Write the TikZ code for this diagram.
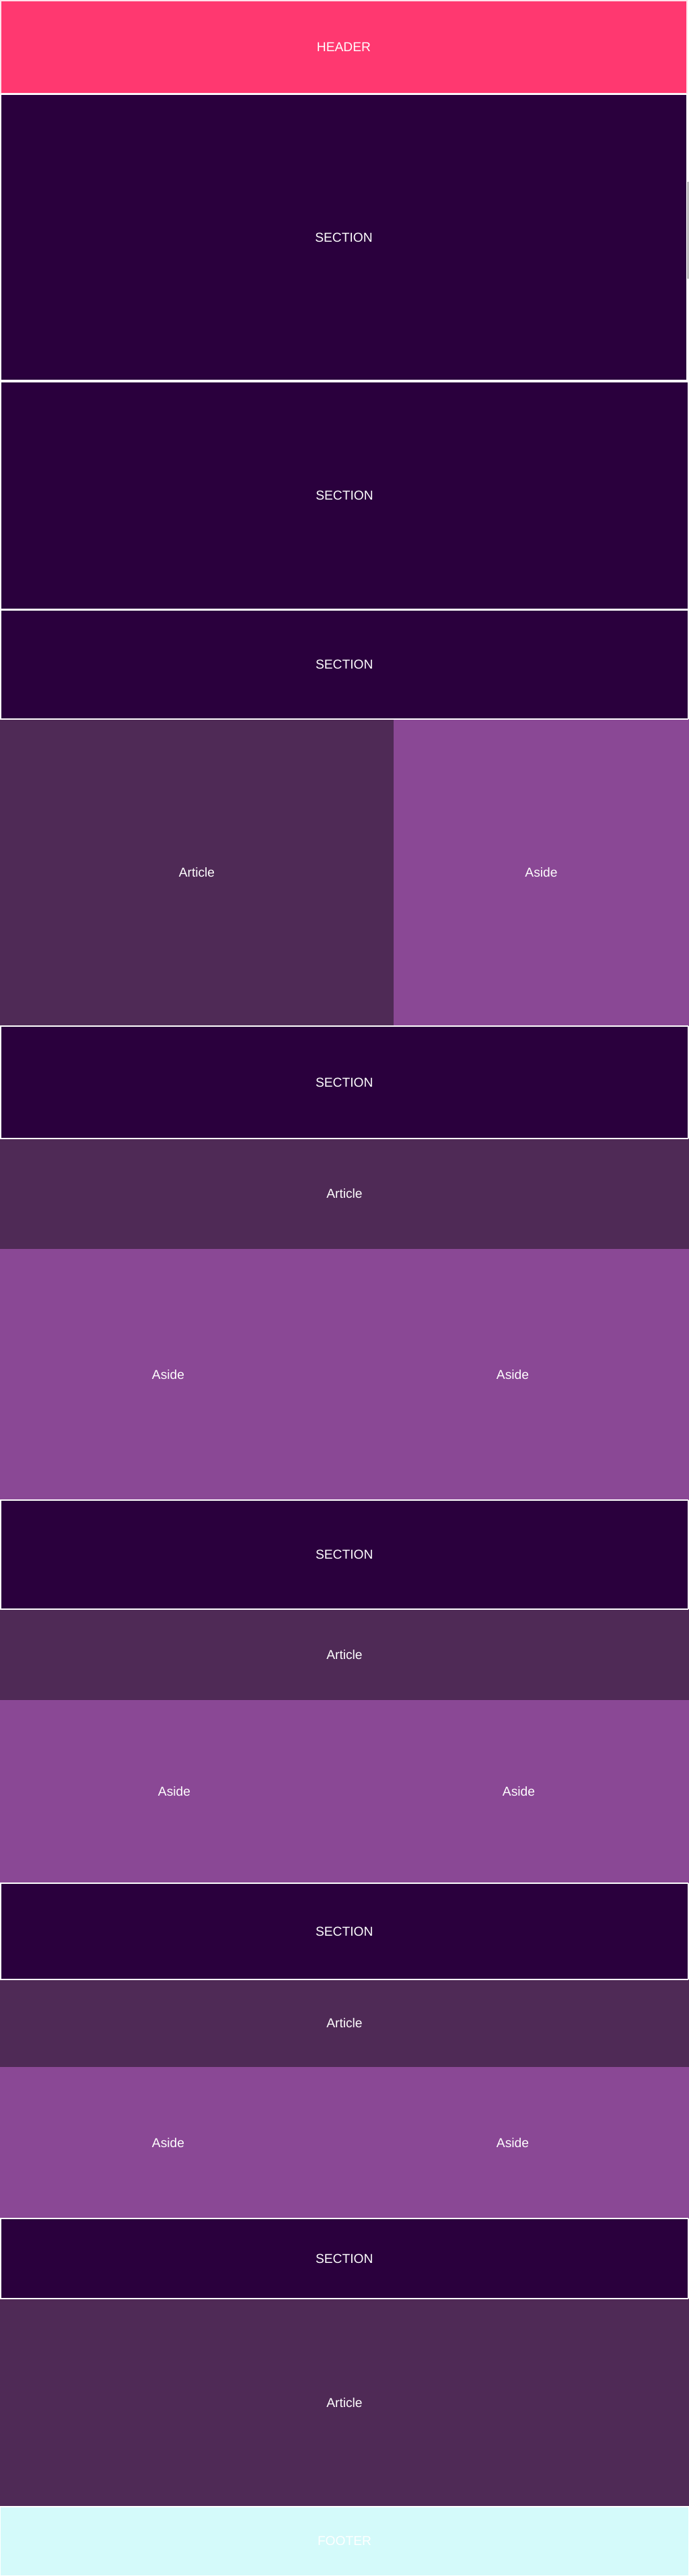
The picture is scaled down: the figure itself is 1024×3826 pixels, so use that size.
\documentclass[tikz,border=0pt]{standalone}
\usepackage{fontspec}
\setmainfont{Liberation Sans}
\definecolor{hdr}{HTML}{FF3870}
\definecolor{sec}{HTML}{2A003D}
\definecolor{art}{HTML}{4F2A56}
\definecolor{asd}{HTML}{8A4895}
\definecolor{ftr}{HTML}{D4FAFA}
\newcommand\blk[7]{\node[#6, minimum width={(#4-#2)*0.25pt}, minimum height={(#5-#3)*0.25pt}] (#1) at ({(#2+#4)/2},{(#3+#5)/2}) {#7};}
\begin{document}
\begin{tikzpicture}[x=0.25pt,y=-0.25pt,
  base/.style={rectangle, inner sep=0pt, outer sep=0pt, text=white, font=\fontsize{4.8pt}{5.5pt}\selectfont},
  hdrbox/.style={base, fill=hdr, draw=white!85!hdr, line width=0.3pt},
  secbox/.style={base, fill=sec, draw=white, line width=0.4pt},
  artbox/.style={base, fill=art},
  asdbox/.style={base, fill=asd},
  ftrbox/.style={base, fill=ftr, draw=white, line width=0.3pt}]
\fill[white] (0,0) rectangle (1024,3826);
\useasboundingbox (0,0) rectangle (1024,3826);
% article / aside blocks first
\blk{art1}{0}{1068}{585}{1524}{artbox}{Article}
\blk{asd1}{585}{1068}{1024}{1524}{asdbox}{Aside}
\blk{art2}{0}{1691}{1024}{1855}{artbox}{Article}
\blk{asd2a}{0}{1855}{500}{2228}{asdbox}{Aside}
\blk{asd2b}{500}{1855}{1024}{2228}{asdbox}{Aside}
\blk{art3}{0}{2390}{1024}{2525}{artbox}{Article}
\blk{asd3a}{0}{2525}{518}{2797}{asdbox}{Aside}
\blk{asd3b}{518}{2525}{1024}{2797}{asdbox}{Aside}
\blk{art4}{0}{2940}{1024}{3070}{artbox}{Article}
\blk{asd4a}{0}{3070}{500}{3295}{asdbox}{Aside}
\blk{asd4b}{500}{3070}{1024}{3295}{asdbox}{Aside}
\blk{art5}{0}{3414}{1024}{3723}{artbox}{Article}
% header, sections, footer
\blk{header}{1}{1}{1021}{139}{hdrbox}{HEADER}
\blk{sec1}{1}{140}{1021}{565}{secbox}{SECTION}
\blk{sec2}{1.5}{567}{1022.5}{905}{secbox}{SECTION}
\blk{sec3}{1}{906}{1022.5}{1068}{secbox}{SECTION}
\blk{sec4}{1}{1524}{1022.5}{1691}{secbox}{SECTION}
\blk{sec5}{1}{2228}{1022.5}{2390}{secbox}{SECTION}
\blk{sec6}{1}{2797}{1022.5}{2940}{secbox}{SECTION}
\blk{sec7}{1}{3295}{1022.5}{3414}{secbox}{SECTION}
\blk{footer}{0.5}{3723}{1023.5}{3825.5}{ftrbox}{FOOTER}
% thin grey edge mark at the right of the first section
\coordinate (g1) at (1022.5,270);
\coordinate (g2) at (1022.5,414);
\draw[black!65, line width=0.4pt] (g1) -- (g2);
\end{tikzpicture}
\end{document}
